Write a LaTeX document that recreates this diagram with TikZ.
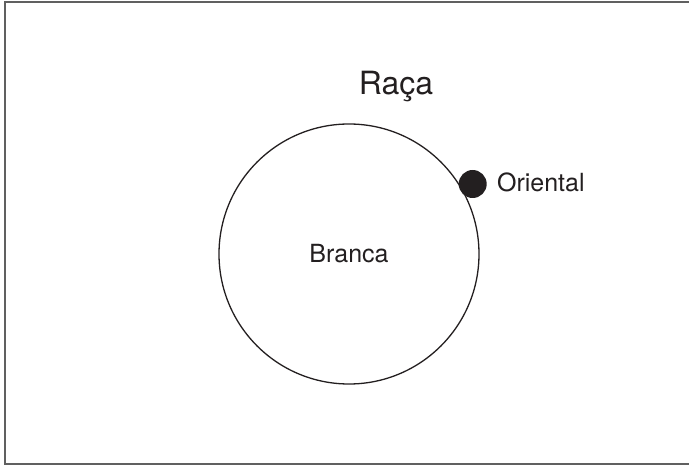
\documentclass[tikz,border=0pt]{standalone}
\usepackage{fontspec}
\setmainfont{TeX Gyre Heros}
\usetikzlibrary{positioning}

\definecolor{ink}{HTML}{231F20}
\tikzset{
  group/.style={circle,draw=ink,line width=1.3pt,inner sep=0pt,text=ink,font=\fontsize{25}{30}\selectfont},
  member/.style={circle,fill=ink,inner sep=0pt,minimum size=28pt},
  tag/.style={inner sep=0pt,text=ink,font=\fontsize{25}{30}\selectfont},
}

\begin{document}
\begin{tikzpicture}[x=1pt,y=-1pt]
  \useasboundingbox (0,0) rectangle (689,465);
  \draw[gray!75!black,line width=1.5pt] (5,2) rectangle (700,464);

  \node[group,minimum size=260pt] (branca) at (349,254) {Branca};
  \node[member] (oriental) at (472.7,184) {};
  \node[tag] (oriental_l) [right=10pt of oriental,yshift=2pt] {Oriental};
  \node[tag,font=\fontsize{32}{38}\selectfont,anchor=base] (raca) at (396,95) {Raça};
\end{tikzpicture}
\end{document}
